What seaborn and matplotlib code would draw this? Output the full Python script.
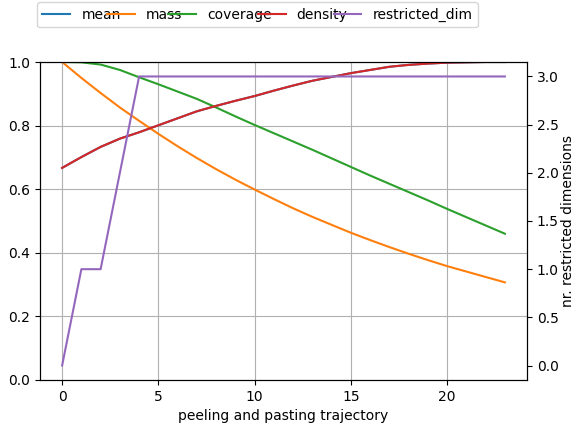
import matplotlib
matplotlib.use("Agg")
import matplotlib.pyplot as plt
import seaborn as sns
import pandas as pd
import numpy as np

# Peeling/pasting trajectory statistics per box step
steps = list(range(24))
mass = [1.0, 0.95, 0.9025, 0.857, 0.815, 0.774, 0.735, 0.698, 0.663, 0.630,
        0.599, 0.569, 0.540, 0.513, 0.488, 0.463, 0.440, 0.418, 0.397, 0.377,
        0.358, 0.341, 0.324, 0.307]
coverage = [1.0, 0.999, 0.992, 0.975, 0.952, 0.930, 0.907, 0.884, 0.857, 0.829,
            0.802, 0.776, 0.750, 0.724, 0.697, 0.670, 0.643, 0.617, 0.591, 0.565,
            0.538, 0.512, 0.486, 0.460]
density = [0.667, 0.701, 0.733, 0.759, 0.779, 0.801, 0.823, 0.845, 0.862, 0.878,
           0.893, 0.910, 0.926, 0.941, 0.953, 0.965, 0.975, 0.985, 0.991, 0.995,
           0.998, 0.999, 1.0, 1.0]
mean = list(density)
restricted_dim = [0, 1, 1, 2, 3, 3, 3, 3, 3, 3, 3, 3, 3, 3, 3, 3, 3, 3, 3, 3,
                  3, 3, 3, 3]

series_names = ["mean", "mass", "coverage", "density"]
colors = sns.color_palette("tab10")

df = pd.DataFrame({"step": steps, "mean": mean, "mass": mass,
                   "coverage": coverage, "density": density})
long_df = df.melt(id_vars="step", var_name="stat", value_name="value")

fig = plt.figure(figsize=(5.76, 4.25), dpi=100)
ax = fig.add_axes([0.0694, 0.1059, 0.8456, 0.7482])

sns.lineplot(data=long_df, x="step", y="value", hue="stat",
             hue_order=series_names, palette=colors[:4], linewidth=1.5,
             ax=ax, legend=False)
ax.set_ylim(0, 1)
ax.grid(True, color="#b0b0b0", linewidth=0.8)
ax.set_xlabel("peeling and pasting trajectory")
ax.set_ylabel("")
ax.set_xticks([0, 5, 10, 15, 20])

ax2 = ax.twinx()
sns.lineplot(x=steps, y=restricted_dim, color=colors[4], linewidth=1.5, ax=ax2)
ax2.set_ylabel("nr. restricted dimensions", labelpad=1.5)
ax2.set_yticks(np.arange(0, 3.01, 0.5))

handles = [plt.Line2D([], [], color=colors[i], lw=1.5) for i in range(5)]
labels = series_names + ["restricted_dim"]
fig.legend(handles, labels, loc="upper center", ncol=5,
           bbox_to_anchor=(0.447, 1.0), columnspacing=-1.0,
           borderaxespad=0.15)

fig.savefig("out.png", dpi=100)
